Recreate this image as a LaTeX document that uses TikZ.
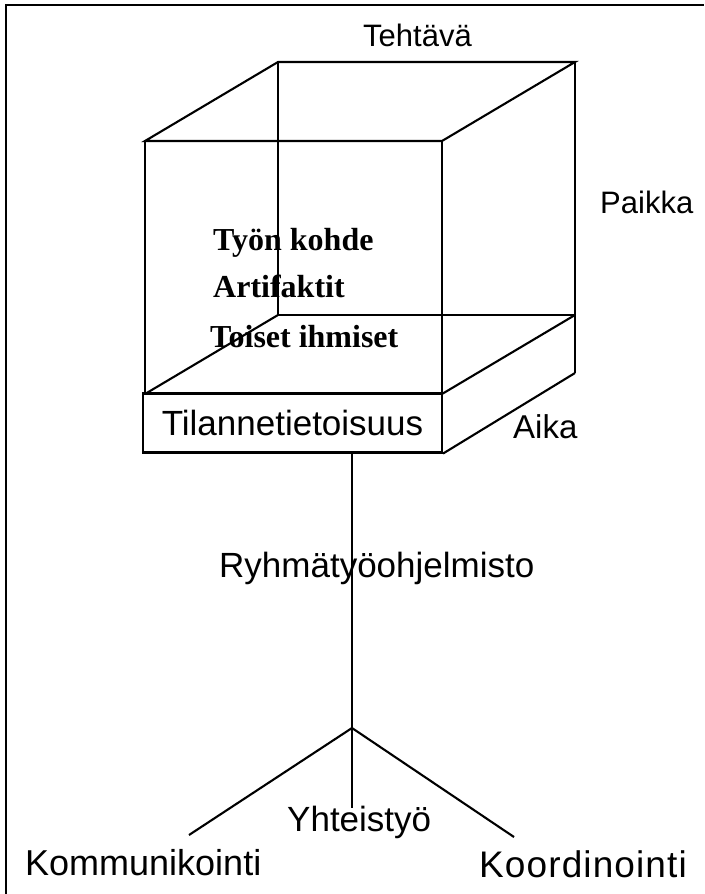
\documentclass[tikz,border=0pt]{standalone}
\usepackage{fontspec}
\setmainfont{Liberation Sans}
\newfontfamily\timesfont{Liberation Serif}
\newfontfamily\widesans{Liberation Sans}[LetterSpace=3.0]
\begin{document}
\begin{tikzpicture}[x=1pt,y=-1pt,
  edge/.style={line width=2.1pt, line join=miter},
  frameline/.style={line width=2.2pt},
  lbl/.style={inner sep=0pt, anchor=base west, font=\fontsize{#1}{#1}\selectfont},
  lbl/.default=35,
  inner/.style={inner sep=0pt, anchor=base west, font=\timesfont\bfseries\fontsize{32}{32}\selectfont},
  slabbox/.style={draw, line width=2.1pt, minimum width=299pt, minimum height=59pt, inner sep=0pt, font=\fontsize{35}{35}\selectfont}
]
\useasboundingbox (0,0) rectangle (704,894);

% outer frame (top and left sides only)
\draw[frameline] (6,894) -- (6,5) -- (704,5);

% cube corners
\coordinate (btl) at (278,62);
\coordinate (btr) at (575,62);
\coordinate (ftl) at (145,141);
\coordinate (ftr) at (442,141);
\coordinate (bbl) at (278,315);
\coordinate (bbr) at (575,315);
\coordinate (fbl) at (145,394);
\coordinate (fbr) at (442,394);
\coordinate (sbr) at (575,373);

% cube wireframe
\draw[edge] (ftl) -- (btl) -- (btr) -- (ftr) -- cycle;
\draw[edge] (ftl) -- (fbl);
\draw[edge] (ftr) -- (fbr);
\draw[edge] (btl) -- (bbl);
\draw[edge] (btr) -- (sbr);
\draw[edge] (bbl) -- (bbr);
\draw[edge] (bbl) -- (fbl);
\draw[edge] (bbr) -- (fbr);

% slab at the base of the cube
\node[slabbox] (slab) at (292.5,423) {Tilannetietoisuus};
\draw[edge] (sbr) -- (slab.south east);

% labels round the cube
\node[lbl=31] (task) at (363,46) {Tehtävä};
\node[lbl=31] (place) at (600,213) {Paikka};
\node[lbl=33] (time) at (513,438) {Aika};

% contents of the cube
\node[inner] (obj) at (213,250) {Työn kohde};
\node[inner] (art) at (213,297) {Artifaktit};
\node[inner] (oth) at (210,347) {Toiset ihmiset};

% groupware stem and its three branches
\coordinate (fork) at (352,728);
\coordinate (leftend) at (189,835);
\coordinate (rightend) at (514,837);
\coordinate (midend) at (352,808);
\draw[edge] (slab.south -| fork) -- (fork) -- (midend);
\draw[edge] (fork) -- (leftend);
\draw[edge] (fork) -- (rightend);

\node[lbl=35] (gw) at (219,577) {Ryhmätyöohjelmisto};
\node[lbl=35] (coop) at (287,831) {Yhteistyö};
\node[lbl=36] (comm) at (25,875) {Kommunikointi};
\node[inner sep=0pt, anchor=base west, font=\widesans\fontsize{37}{37}\selectfont] (coord) at (479,877) {Koordinointi};
\end{tikzpicture}
\end{document}
